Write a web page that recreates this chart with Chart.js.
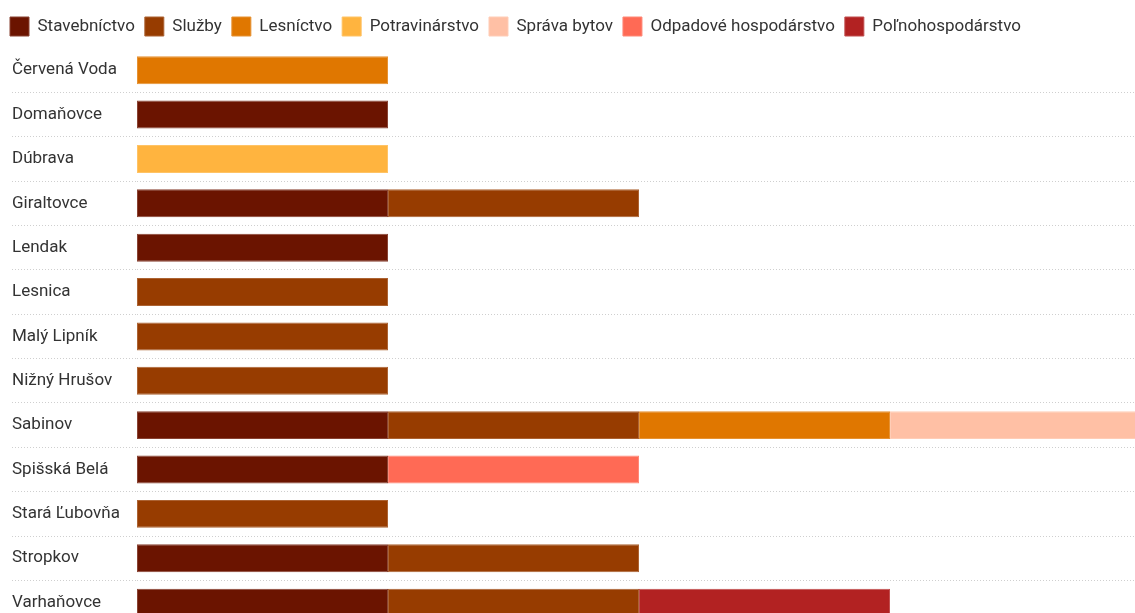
<!DOCTYPE html>
<html>
<head>
<meta charset="utf-8">
<script src="https://cdn.jsdelivr.net/npm/chart.js@4/dist/chart.umd.min.js"></script>
<style>
  html, body { margin: 0; padding: 0; background: #fff; overflow: hidden; }
  #wrap { position: relative; width: 1141px; height: 635px; }
</style>
</head>
<body>
<div id="wrap"><canvas id="c"></canvas></div>
<script>
const categories = ["Červená Voda", "Domaňovce", "Dúbrava", "Giraltovce", "Lendak", "Lesnica", "Malý Lipník", "Nižný Hrušov", "Sabinov", "Spišská Belá", "Stará Ľubovňa", "Stropkov", "Varhaňovce"];
const seriesNames = ["Stavebníctvo", "Služby", "Lesníctvo", "Potravinárstvo", "Správa bytov", "Odpadové hospodárstvo", "Poľnohospodárstvo"];
const seriesColors = ["#6b1400", "#973c00", "#e07700", "#ffb43f", "#ffc0a5", "#ff6a55", "#b22222"];
const stavebnictvo   = [null, 1, null, 1, 1, null, null, null, 1, 1, null, 1, 1];
const sluzby         = [null, null, null, 1, null, 1, 1, 1, 1, null, 1, 1, 1];
const lesnictvo      = [1, null, null, null, null, null, null, null, 1, null, null, null, null];
const potravinarstvo = [null, null, 1, null, null, null, null, null, null, null, null, null, null];
const spravaBytov    = [null, null, null, null, null, null, null, null, 1, null, null, null, null];
const odpadove       = [null, null, null, null, null, null, null, null, null, 1, null, null, null];
const polnohosp      = [null, null, null, null, null, null, null, null, null, null, null, null, 1];
const seriesValues = [stavebnictvo, sluzby, lesnictvo, potravinarstvo, spravaBytov, odpadove, polnohosp];

const FONT = "Roboto, 'Noto Sans', sans-serif";
const GRID = "#cfcfcf";

function lighten(hex, t) {
  const n = parseInt(hex.slice(1), 16);
  const r = (n >> 16) & 255, g = (n >> 8) & 255, b = n & 255;
  const m = v => Math.round(v + (255 - v) * t);
  return `rgb(${m(r)},${m(g)},${m(b)})`;
}

const shiftYLabels = {
  id: 'shiftYLabels',
  afterLayout(chart) {
    chart.scales.y.left = 12;
  }
};

const chart = new Chart(document.getElementById('c'), {
  type: 'bar',
  data: {
    labels: categories,
    datasets: seriesNames.map((name, i) => ({
      label: name,
      data: seriesValues[i],
      backgroundColor: seriesColors[i],
      borderColor: lighten(seriesColors[i], 0.2),
      borderWidth: 1,
      borderSkipped: false,
      categoryPercentage: 1,
      barPercentage: 0.63
    }))
  },
  plugins: [shiftYLabels],
  options: {
    indexAxis: 'y',
    responsive: true,
    maintainAspectRatio: false,
    animation: false,
    layout: { padding: { left: 0, right: 0, top: 7, bottom: 0 } },
    plugins: {
      tooltip: { enabled: false },
      legend: {
        position: 'top',
        align: 'start',
        labels: {
          boxWidth: 19,
          boxHeight: 19,
          padding: 10,
          color: '#333',
          font: { family: FONT, size: 17 }
        }
      }
    },
    scales: {
      x: {
        stacked: true,
        min: 0,
        max: 4,
        display: false
      },
      y: {
        stacked: true,
        afterFit: (s) => { s.width = 137; },
        border: { display: false, dash: [1, 2] },
        grid: {
          offset: true,
          drawTicks: true,
          tickLength: 125,
          color: (ctx) => ctx.index === 0 ? 'rgba(0,0,0,0)' : GRID,
          tickColor: (ctx) => ctx.index === 0 ? 'rgba(0,0,0,0)' : GRID,
          tickBorderDash: [1, 2],
          lineWidth: 1
        },
        ticks: {
          crossAlign: 'far',
          padding: 0,
          color: '#333',
          font: { family: FONT, size: 17 }
        }
      }
    }
  }
});

const origFit = chart.legend.fit;
chart.legend.fit = function () { origFit.call(this); this.height += 2; };
chart.update();
</script>
</body>
</html>
